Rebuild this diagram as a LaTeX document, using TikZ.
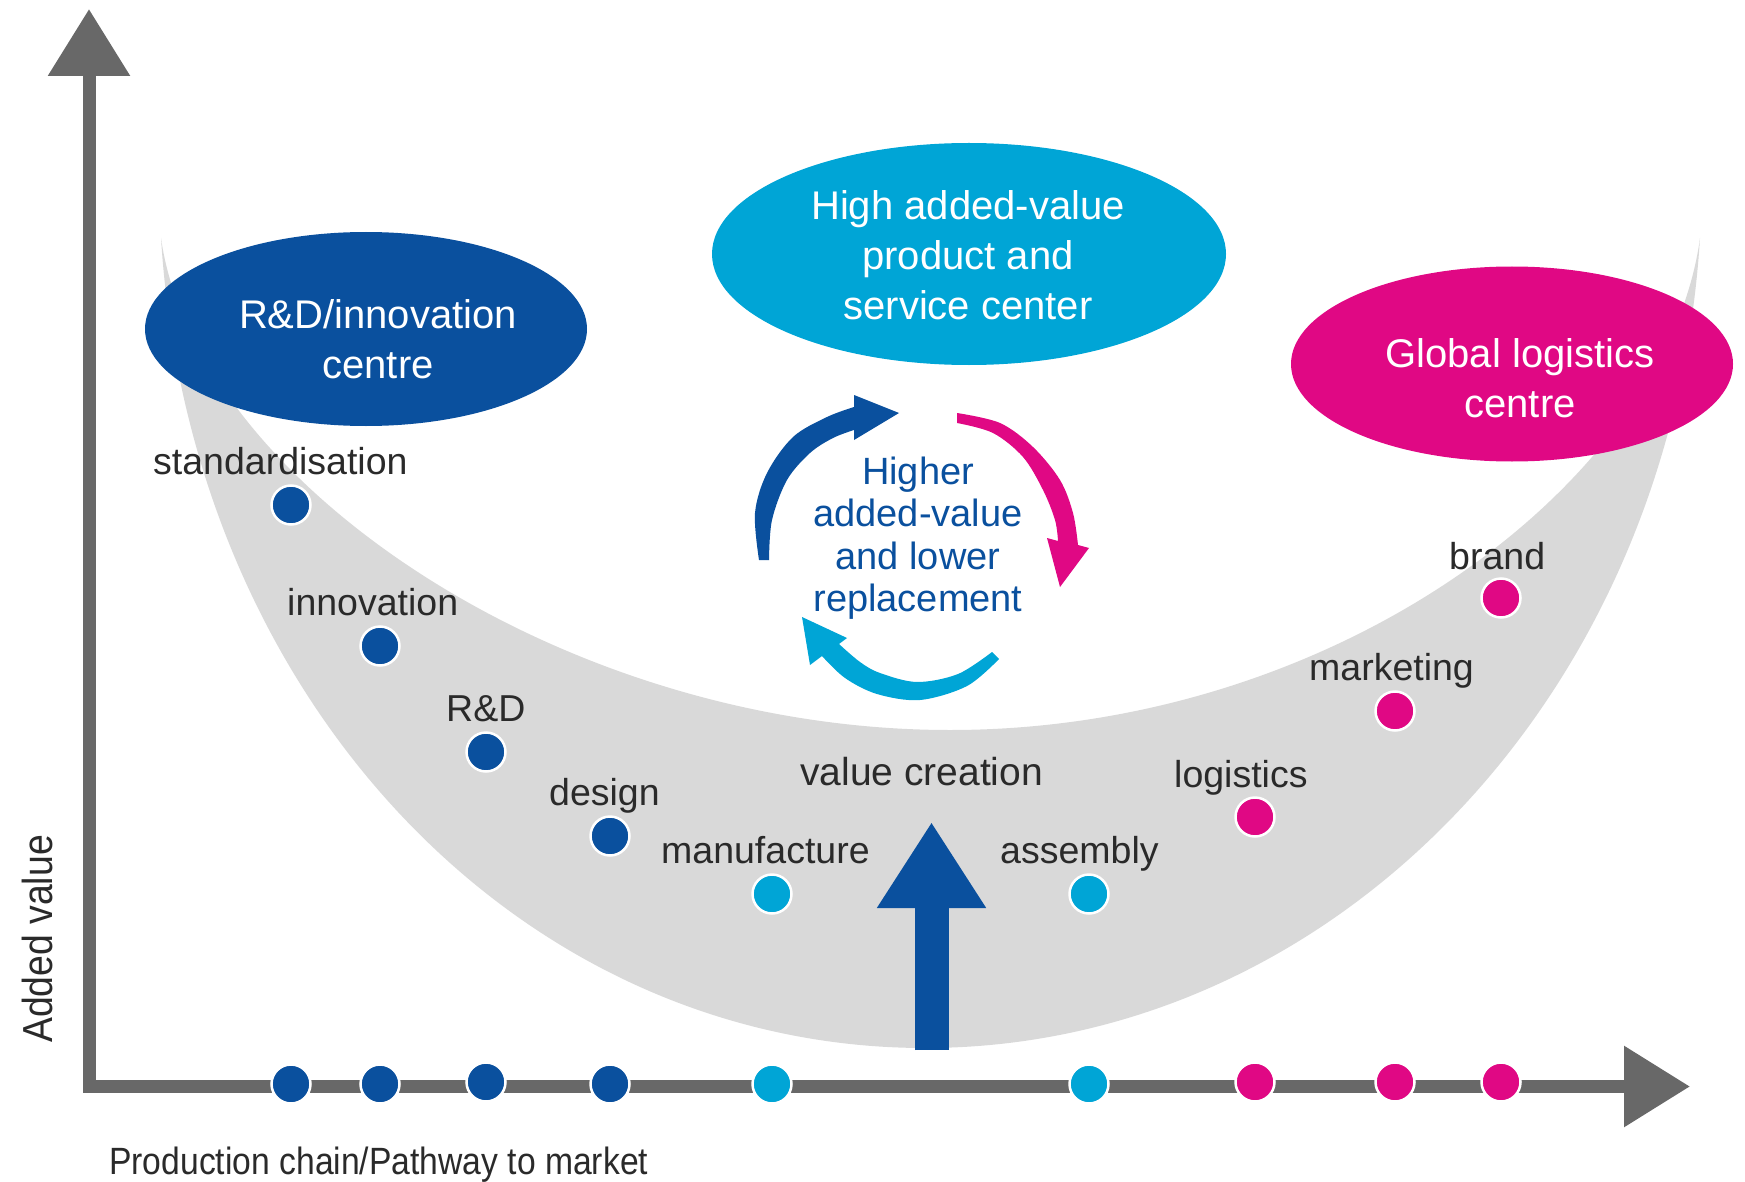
\documentclass[tikz,border=0pt]{standalone}
\usepackage{graphicx}
\usepackage{fontspec}
\setmainfont{Liberation Sans}
\usetikzlibrary{shapes.geometric,arrows.meta}
\definecolor{navy}{RGB}{10,80,158}
\definecolor{sky}{RGB}{0,165,214}
\definecolor{mag}{RGB}{224,8,132}
\definecolor{bandgray}{RGB}{217,217,217}
\definecolor{axisgray}{RGB}{104,104,104}
\definecolor{labelgray}{RGB}{42,42,42}
\begin{document}
\begin{tikzpicture}[x=1pt,y=-1pt,
  dot/.style={circle, minimum size=39pt, inner sep=0pt, draw=white, line width=2.5pt},
  lbl/.style={anchor=base west, inner sep=0pt, text=labelgray, font=\fontsize{37.5}{45}\selectfont},
  hub/.style={ellipse, inner sep=0pt},
  hubtext/.style={align=center, text=white, inner sep=0pt, font=\fontsize{40}{50}\selectfont},
  cycletext/.style={align=center, text=navy, inner sep=0pt, font=\fontsize{38}{42.5}\selectfont},
  axislabel/.style={inner sep=0pt, text=labelgray},
  axisline/.style={draw=axisgray, line width=13pt},
]
\useasboundingbox (0,0) rectangle (1745,1182);

% grey U-shaped band
\fill[bandgray] (161,238) .. controls (190,700) and (520,1048) .. (925,1048)
  .. controls (1330,1048) and (1671,700) .. (1700,238)
  .. controls (1667,480) and (1340,730) .. (950,730)
  .. controls (560,730) and (195,480) .. (161,238) -- cycle;

% cycle arrows
\fill[navy] (759,560) -- plot[smooth, tension=0.55] coordinates {(759,560) (755,513) (767,473) (793,437) (827,417) (854,407)}
  -- (854,395) -- (899,413) -- (854,440)
  -- plot[smooth, tension=0.55] coordinates {(854,430) (833,438) (810,453) (787,480) (772,520) (769,560)} -- cycle;
\fill[mag] (957,413) -- plot[smooth, tension=0.55] coordinates {(957,413) (1000,423) (1033,447) (1060,480) (1073,513) (1078,545)}
  -- (1089,548) -- (1060,587) -- (1047,538)
  -- plot[smooth, tension=0.55] coordinates {(1058,541) (1055,520) (1043,490) (1023,457) (993,433) (957,423)} -- cycle;
\fill[sky] (999,659) -- plot[smooth, tension=0.55] coordinates {(999,659) (967,686) (920,700) (877,694) (845,678) (822,656)}
  -- (810,665) -- (802,617) -- (847,638)
  -- plot[smooth, tension=0.55] coordinates {(839,644) (860,662) (880,673) (917,682) (958,674) (992,652)} -- cycle;
\node[cycletext] (cyc) at (918,538) {Higher\\added-value\\and lower\\replacement};

% value creation arrow
\coordinate (vbot) at (931.5,1050);
\coordinate (vtop) at (931.5,822);
\draw[navy, line width=34pt, -{Triangle[width=103pt,length=86pt]}] (vbot) -- (vtop);

% centres
\node[hub, fill=navy, minimum width=442pt, minimum height=194pt] (rd) at (366,329) {};
\node[hubtext] (rdt) at (378,339) {R\&D/innovation\\centre};
\node[hub, fill=sky, minimum width=514pt, minimum height=222pt] (hv) at (969,254) {};
\node[hubtext] (hvt) at (968,255) {High added-value\\product and\\service center};
\node[hub, fill=mag, minimum width=442pt, minimum height=195pt] (gl) at (1512,364) {};
\node[hubtext] (glt) at (1520,378) {Global logistics\\centre};

% dots on the curve
\node[dot, fill=navy] (d1) at (291,505) {};
\node[dot, fill=navy] (d2) at (380,646) {};
\node[dot, fill=navy] (d3) at (486,752) {};
\node[dot, fill=navy] (d4) at (610,836) {};
\node[dot, fill=sky]  (d5) at (772,894) {};
\node[dot, fill=sky]  (d6) at (1089,894) {};
\node[dot, fill=mag]  (d7) at (1255,817) {};
\node[dot, fill=mag]  (d8) at (1395,711) {};
\node[dot, fill=mag]  (d9) at (1501,598) {};

% labels
\node[lbl] (l1) at (153,474) {standardisation};
\node[lbl] (l2) at (287,615) {innovation};
\node[lbl] (l3) at (446,721) {R\&D};
\node[lbl] (l4) at (549,805) {design};
\node[lbl] (l5) at (661,863) {manufacture};
\node[lbl, font=\fontsize{39}{45}\selectfont] (vc) at (800,785) {value creation};
\node[lbl] (l6) at (1000,863) {assembly};
\node[lbl] (l7) at (1174,787) {logistics};
\node[lbl] (l8) at (1309,680) {marketing};
\node[lbl] (l9) at (1449,569) {brand};

% axes
\coordinate (ytip) at (89,9);
\coordinate (xtip) at (1690,1086.5);
\draw[axisline, {Triangle[width=79pt,length=67pt]}-{Triangle[width=78pt,length=66pt]}] (ytip) |- (xtip);

% dots on the axis
\node[dot, fill=navy] (a1) at (291,1084) {};
\node[dot, fill=navy] (a2) at (380,1084) {};
\node[dot, fill=navy] (a3) at (486,1082) {};
\node[dot, fill=navy] (a4) at (610,1084) {};
\node[dot, fill=sky]  (a5) at (772,1084) {};
\node[dot, fill=sky]  (a6) at (1089,1084) {};
\node[dot, fill=mag]  (a7) at (1255,1082) {};
\node[dot, fill=mag]  (a8) at (1395,1082) {};
\node[dot, fill=mag]  (a9) at (1501,1082) {};

% axis labels
\node[axislabel, anchor=base west, font=\fontsize{38}{45}\selectfont] (xlabel) at (109,1174) {\scalebox{0.886}[1]{Production chain/Pathway to market}};
\node[axislabel, rotate=90, anchor=base, font=\fontsize{42}{48}\selectfont] (ylabel) at (52,939) {\scalebox{0.89}[1]{Added value}};
\end{tikzpicture}
\end{document}
